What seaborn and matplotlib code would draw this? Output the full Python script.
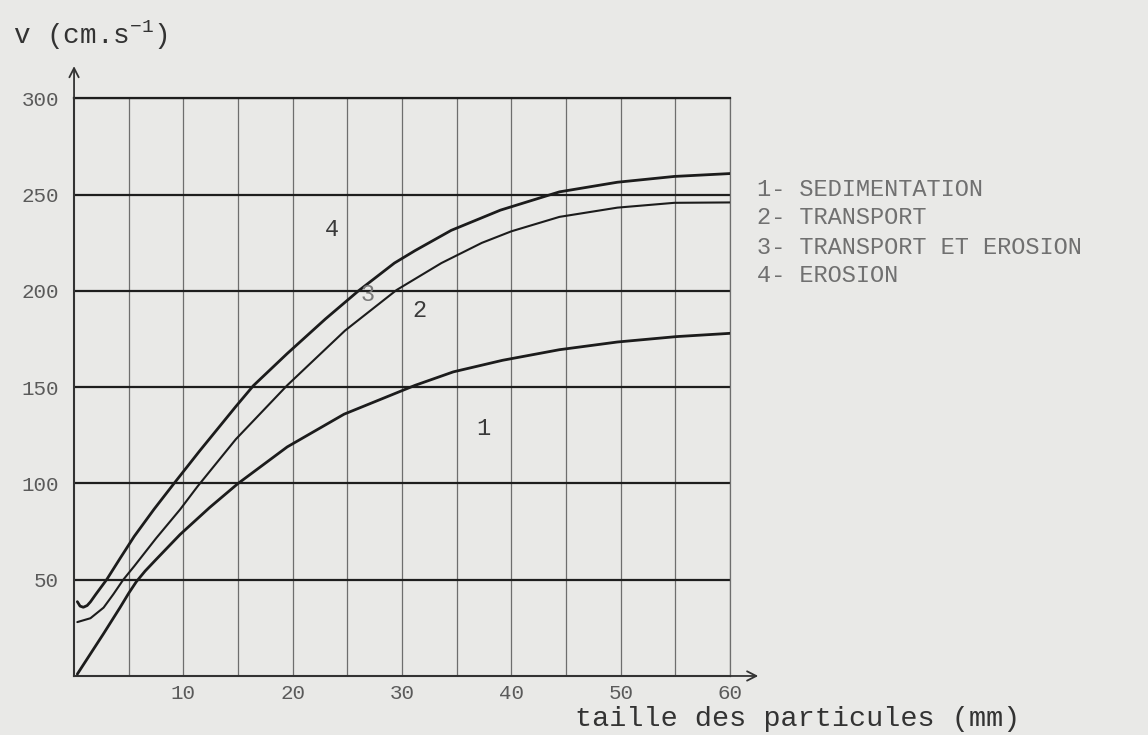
import numpy as np
import pandas as pd
import matplotlib
matplotlib.use("Agg")
import matplotlib.pyplot as plt
import seaborn as sns

# ---------------- data ----------------
x_tick_values = [10, 20, 30, 40, 50, 60]
y_tick_values = [50, 100, 150, 200, 250, 300]

# lower curve : limit sedimentation / transport
sed_x = [0.3, 1.5, 2.7, 4.2, 5.0, 5.7, 6.5, 7.5, 9.7, 12.4, 15.0, 19.5, 24.7,
         31.2, 34.7, 39.2, 44.4, 49.7, 55.1, 60.0]
sed_v = [1.0, 11.5, 22.0, 35.5, 43.0, 49.0, 54.5, 60.5, 73.5, 87.5, 100.0,
         119.0, 136.0, 151.0, 158.0, 164.0, 169.5, 173.5, 176.3, 178.0]

# middle curve : limit transport / transport et erosion
tra_x = [0.3, 1.5, 2.7, 3.6, 4.5, 5.5, 7.5, 9.7, 11.3, 14.8, 19.5, 24.8, 29.5,
         33.6, 37.3, 40.0, 44.4, 49.7, 54.9, 60.0]
tra_v = [28.0, 30.0, 35.5, 42.5, 50.0, 57.0, 71.5, 86.5, 98.5, 123.0, 151.0,
         179.5, 200.5, 214.5, 225.0, 231.0, 238.5, 243.3, 245.8, 246.0]

# upper curve : limit transport et erosion / erosion
ero_x = [0.3, 0.55, 0.85, 1.2, 1.5, 2.0, 3.0, 4.2, 5.5, 7.3, 9.1, 11.5, 14.8,
         16.4, 19.5, 23.0, 26.0, 29.3, 31.2, 34.5, 39.0, 44.4, 49.7, 54.9, 60.0]
ero_v = [38.6, 36.3, 35.7, 36.6, 38.5, 42.5, 50.2, 61.0, 72.5, 86.5, 99.7,
         117.0, 140.0, 150.8, 167.5, 185.5, 200.0, 214.5, 221.0, 231.5, 242.0,
         251.5, 256.5, 259.5, 261.0]

curve_names = ["sedimentation", "transport", "erosion"]
zone_labels = ["1", "2", "3", "4"]
legend_lines = ["1- SEDIMENTATION", "2- TRANSPORT",
                "3- TRANSPORT ET EROSION", "4- EROSION"]

df = pd.concat([
    pd.DataFrame({"taille": sed_x, "v": sed_v, "courbe": curve_names[0]}),
    pd.DataFrame({"taille": tra_x, "v": tra_v, "courbe": curve_names[1]}),
    pd.DataFrame({"taille": ero_x, "v": ero_v, "courbe": curve_names[2]}),
], ignore_index=True)

# ---------------- style ----------------
sns.set_theme(style="white")
paper = "#e9e9e7"
plt.rcParams["font.family"] = ["Liberation Mono", "DejaVu Sans Mono"]
plt.rcParams["mathtext.fontset"] = "custom"
plt.rcParams["mathtext.rm"] = "Liberation Mono"
plt.rcParams["mathtext.it"] = "Liberation Mono"
plt.rcParams["mathtext.default"] = "rm"
plt.rcParams["figure.facecolor"] = paper
plt.rcParams["axes.facecolor"] = paper

fig = plt.figure(figsize=(11.48, 7.35), dpi=100)
ax = fig.add_axes([0.0645, 0.0803, 0.5714, 0.7857])

line_widths = {"sedimentation": 2.0, "transport": 1.5, "erosion": 2.0}
for name in curve_names:
    sns.lineplot(data=df[df["courbe"] == name], x="taille", y="v",
                 color="#1c1c1c", linewidth=line_widths[name],
                 sort=False, estimator=None, legend=False, ax=ax, zorder=3)
for ln in ax.lines:
    ln.set_solid_joinstyle("round")
    ln.set_solid_capstyle("round")

ax.set_xlim(0, 60)
ax.set_ylim(0, 300)
ax.set_xticks(x_tick_values)
ax.set_xticks([5, 15, 25, 35, 45, 55], minor=True)
ax.set_yticks(y_tick_values)
ax.set_xticklabels([str(v) for v in x_tick_values])
ax.set_yticklabels([str(v) for v in y_tick_values])
ax.tick_params(axis="both", which="both", length=0, colors="#5a5a5a",
               labelsize=15)
ax.tick_params(axis="y", pad=11)
ax.tick_params(axis="x", pad=6)
ax.set_xlabel("")
ax.set_ylabel("")

ax.set_axisbelow(True)
ax.grid(axis="x", which="both", color="#6e6e6e", linewidth=0.9)
ax.grid(axis="y", which="major", color="#1e1e1e", linewidth=1.6)

for side in ["left", "bottom"]:
    ax.spines[side].set_color("#333333")
    ax.spines[side].set_linewidth(1.5)
ax.spines["top"].set_color("#1e1e1e")
ax.spines["top"].set_linewidth(1.6)
ax.spines["right"].set_color("#6e6e6e")
ax.spines["right"].set_linewidth(0.9)

# axis arrows
arrow_kw = dict(arrowstyle="->,head_length=0.55,head_width=0.28",
                color="#333333", lw=1.3, shrinkA=0, shrinkB=0)
ax.annotate("", xy=(0, 1.056), xytext=(0, 0.999), xycoords="axes fraction",
            arrowprops=arrow_kw, annotation_clip=False)
ax.annotate("", xy=(1.043, 0), xytext=(0.999, 0), xycoords="axes fraction",
            arrowprops=arrow_kw, annotation_clip=False)

# zone numbers
zone_pos = [(37.4, 128.7), (31.6, 190.0), (26.9, 198.0), (23.6, 231.7)]
zone_col = ["#3a3a3a", "#3a3a3a", "#7a7a7a", "#3a3a3a"]
for lab, (zx, zv), col in zip(zone_labels, zone_pos, zone_col):
    ax.text(zx, zv, lab, fontsize=17, color=col, ha="center", va="center",
            zorder=4)

# axis titles
fig.text(13 / 1148, 1 - 44 / 735, r"v (cm.s$^{-1}$)", fontsize=20,
         color="#333333", ha="left", va="baseline")
fig.text(575 / 1148, 1 - 726 / 735, "taille des particules (mm)",
         fontsize=20.5, color="#333333", ha="left", va="baseline")

# legend text
legend_rows_py = [190, 218, 247, 275]
for txt, py in zip(legend_lines, legend_rows_py):
    fig.text(757 / 1148, 1 - py / 735, txt, fontsize=17, color="#707070",
             ha="left", va="center")

fig.savefig("out.png", dpi=100, facecolor=paper)
